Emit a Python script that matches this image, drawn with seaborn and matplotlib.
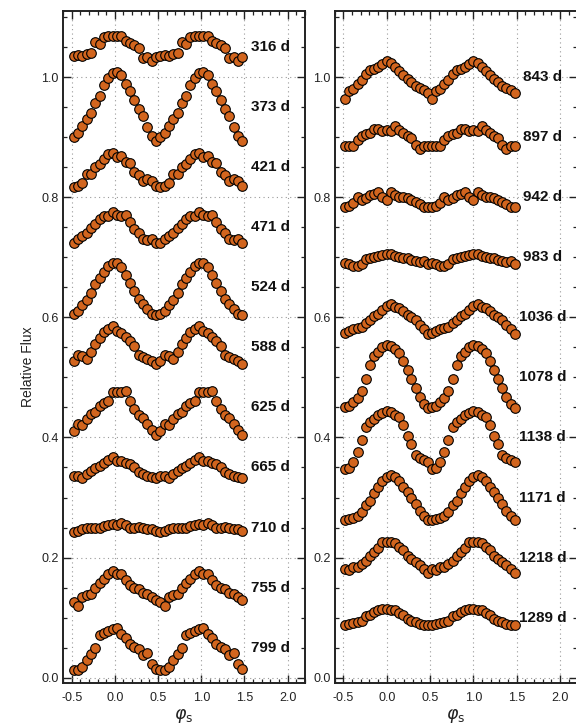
import numpy as np
import pandas as pd
import matplotlib
matplotlib.use("Agg")
import matplotlib.pyplot as plt
from matplotlib.ticker import MultipleLocator, FormatStrFormatter
import seaborn as sns

# Phase grid of one folded cycle (left and right columns)
PHASE_L = [-0.475, -0.425, -0.375, -0.325, -0.275, -0.225, -0.175, -0.125, -0.075, -0.025,
           0.025, 0.075, 0.125, 0.175, 0.225, 0.275, 0.325, 0.375, 0.425, 0.475]
PHASE_R = [-0.48, -0.43, -0.385, -0.335, -0.29, -0.24, -0.19, -0.145, -0.095, -0.05, 0.0,
           0.05, 0.095, 0.145, 0.19, 0.24, 0.285, 0.335, 0.38, 0.43, 0.475]

# Left column light curves (offset relative flux)
F_316 = [1.035, 1.036, 1.035, 1.038, 1.040, 1.058, 1.055, 1.066, 1.069, 1.069,
         1.068, 1.068, 1.060, 1.056, 1.053, 1.049, 1.031, 1.034, 1.026, 1.033]
F_373 = [0.900, 0.907, 0.918, 0.930, 0.940, 0.957, 0.969, 0.986, 0.998, 1.006,
         1.009, 1.003, 0.988, 0.977, 0.961, 0.947, 0.935, 0.917, 0.902, 0.894]
F_421 = [0.817, 0.819, 0.824, 0.839, 0.839, 0.851, 0.855, 0.863, 0.872, 0.874,
         0.867, 0.868, 0.859, 0.857, 0.842, 0.837, 0.827, 0.830, 0.827, 0.818]
F_471 = [0.724, 0.730, 0.735, 0.740, 0.748, 0.756, 0.764, 0.768, 0.769, 0.775,
         0.770, 0.769, 0.771, 0.758, 0.747, 0.740, 0.731, 0.728, 0.731, 0.724]
F_524 = [0.605, 0.610, 0.620, 0.629, 0.640, 0.655, 0.666, 0.676, 0.686, 0.691,
         0.690, 0.684, 0.670, 0.657, 0.644, 0.630, 0.622, 0.614, 0.606, 0.604]
F_588 = [0.527, 0.537, 0.536, 0.531, 0.542, 0.556, 0.565, 0.575, 0.580, 0.586,
         0.578, 0.574, 0.567, 0.560, 0.553, 0.537, 0.534, 0.530, 0.528, 0.523]
F_625 = [0.410, 0.423, 0.421, 0.430, 0.439, 0.443, 0.452, 0.457, 0.461, 0.475,
         0.476, 0.476, 0.477, 0.460, 0.448, 0.438, 0.432, 0.422, 0.412, 0.404]
F_665 = [0.336, 0.335, 0.332, 0.339, 0.344, 0.349, 0.353, 0.357, 0.362, 0.367,
         0.360, 0.361, 0.358, 0.356, 0.350, 0.343, 0.339, 0.336, 0.334, 0.333]
F_710 = [0.243, 0.245, 0.248, 0.250, 0.249, 0.250, 0.249, 0.252, 0.255, 0.256,
         0.254, 0.258, 0.254, 0.250, 0.249, 0.251, 0.250, 0.247, 0.247, 0.245]
F_755 = [0.126, 0.120, 0.135, 0.137, 0.140, 0.149, 0.157, 0.165, 0.172, 0.177,
         0.173, 0.172, 0.163, 0.155, 0.150, 0.147, 0.141, 0.139, 0.135, 0.130]
F_799 = [0.013, 0.012, 0.018, 0.030, 0.040, 0.050, 0.071, 0.074, 0.078, 0.081,
         0.082, 0.072, 0.066, 0.056, 0.051, 0.048, 0.037, 0.041, 0.022, 0.015]

# Right column light curves
F_843 = [0.964, 0.976, 0.980, 0.989, 0.995, 1.005, 1.012, 1.013, 1.017, 1.022, 1.026,
         1.023, 1.016, 1.010, 1.003, 0.997, 0.991, 0.985, 0.982, 0.978, 0.973]
F_897 = [0.885, 0.885, 0.886, 0.896, 0.902, 0.905, 0.907, 0.914, 0.913, 0.911, 0.912,
         0.911, 0.918, 0.912, 0.907, 0.902, 0.898, 0.887, 0.881, 0.886, 0.885]
F_942 = [0.783, 0.785, 0.791, 0.801, 0.795, 0.799, 0.803, 0.805, 0.809, 0.801, 0.795,
         0.809, 0.803, 0.801, 0.801, 0.798, 0.795, 0.792, 0.788, 0.784, 0.783]
F_983 = [0.691, 0.689, 0.686, 0.686, 0.689, 0.697, 0.699, 0.701, 0.702, 0.703, 0.706,
         0.706, 0.702, 0.701, 0.699, 0.698, 0.695, 0.693, 0.692, 0.693, 0.688]
F_1036 = [0.574, 0.578, 0.580, 0.583, 0.584, 0.591, 0.595, 0.602, 0.606, 0.613, 0.619,
          0.622, 0.617, 0.616, 0.610, 0.604, 0.600, 0.595, 0.588, 0.581, 0.573]
F_1078 = [0.451, 0.453, 0.459, 0.466, 0.478, 0.498, 0.520, 0.536, 0.543, 0.551, 0.554,
          0.553, 0.548, 0.541, 0.528, 0.512, 0.498, 0.482, 0.467, 0.456, 0.449]
F_1138 = [0.348, 0.349, 0.359, 0.376, 0.395, 0.417, 0.426, 0.431, 0.437, 0.441, 0.444,
          0.442, 0.438, 0.434, 0.420, 0.403, 0.389, 0.370, 0.366, 0.363, 0.359]
F_1171 = [0.262, 0.264, 0.266, 0.270, 0.276, 0.287, 0.295, 0.307, 0.318, 0.328, 0.334,
          0.337, 0.334, 0.327, 0.318, 0.309, 0.299, 0.289, 0.278, 0.270, 0.263]
F_1218 = [0.181, 0.179, 0.184, 0.185, 0.189, 0.195, 0.203, 0.209, 0.216, 0.226, 0.226,
          0.226, 0.224, 0.218, 0.212, 0.203, 0.198, 0.192, 0.187, 0.181, 0.175]
F_1289 = [0.087, 0.089, 0.091, 0.092, 0.095, 0.102, 0.105, 0.109, 0.112, 0.114, 0.114,
          0.112, 0.112, 0.108, 0.105, 0.098, 0.095, 0.092, 0.089, 0.087, 0.088]

LABELS_L = ["316 d", "373 d", "421 d", "471 d", "524 d", "588 d",
            "625 d", "665 d", "710 d", "755 d", "799 d"]
LABEL_Y_L = [1.05, 0.95, 0.85, 0.75, 0.65, 0.55, 0.45, 0.35, 0.25, 0.15, 0.05]
LABELS_R = ["843 d", "897 d", "942 d", "983 d", "1036 d",
            "1078 d", "1138 d", "1171 d", "1218 d", "1289 d"]
LABEL_Y_R = [1.00, 0.90, 0.80, 0.70, 0.60, 0.50, 0.40, 0.30, 0.20, 0.10]

FLUX_L = [F_316, F_373, F_421, F_471, F_524, F_588, F_625, F_665, F_710, F_755, F_799]
FLUX_R = [F_843, F_897, F_942, F_983, F_1036, F_1078, F_1138, F_1171, F_1218, F_1289]

X_TICKS = [-0.5, 0.0, 0.5, 1.0, 1.5, 2.0]
Y_TICKS = [0.0, 0.2, 0.4, 0.6, 0.8, 1.0]

ORANGE = "#d2651e"


def folded_frame(phase, fluxes, labels):
    """Two folded cycles per curve: phase and phase + 1."""
    rows = []
    for lab, flux in zip(labels, fluxes):
        ph = np.asarray(phase)
        fl = np.asarray(flux)
        rows.append(pd.DataFrame({"phase": np.concatenate([ph, ph + 1.0]),
                                  "flux": np.concatenate([fl, fl]),
                                  "curve": lab}))
    return pd.concat(rows, ignore_index=True)


sns.set_theme(style="ticks")
plt.rcParams["font.family"] = ["Liberation Sans", "DejaVu Sans"]
plt.rcParams["axes.unicode_minus"] = False
plt.rcParams["mathtext.fontset"] = "dejavusans"

fig = plt.figure(figsize=(5.76, 7.24), dpi=100)
W, H = 576.0, 724.0
bottom = 1 - 682.5 / H
height = 671.5 / H
ax_l = fig.add_axes([63 / W, bottom, 242 / W, height])
ax_r = fig.add_axes([334.7 / W, bottom, 242.7 / W, height])

panels = [
    (ax_l, folded_frame(PHASE_L, FLUX_L, LABELS_L), LABELS_L, LABEL_Y_L),
    (ax_r, folded_frame(PHASE_R, FLUX_R, LABELS_R), LABELS_R, LABEL_Y_R),
]

for ax, df, labels, label_y in panels:
    for lab in labels:
        sub = df[df["curve"] == lab]
        sns.scatterplot(data=sub, x="phase", y="flux", ax=ax, color=ORANGE,
                        edgecolor="black", linewidth=0.8, s=48, legend=False,
                        zorder=3)
    for lab, y in zip(labels, label_y):
        ax.text(1.8, y, lab, ha="center", va="center", fontsize=11,
                fontweight="bold", color="#111111", zorder=4)

    ax.set_xlim(-0.6, 2.2)
    ax.set_ylim(-0.008, 1.11)
    ax.set_xticks(X_TICKS)
    ax.set_yticks(Y_TICKS)
    ax.xaxis.set_major_formatter(FormatStrFormatter("%.1f"))
    ax.yaxis.set_major_formatter(FormatStrFormatter("%.1f"))
    ax.xaxis.set_minor_locator(MultipleLocator(0.1))
    ax.yaxis.set_minor_locator(MultipleLocator(0.05))
    ax.tick_params(which="both", direction="in", top=True, right=True,
                   color="#222222")
    ax.tick_params(which="major", length=6, width=1.0, labelsize=9,
                   labelcolor="#222222")
    ax.tick_params(axis="x", which="major", pad=6.5)
    ax.tick_params(axis="y", which="major", pad=3)
    ax.tick_params(which="minor", length=3, width=0.9)
    ax.grid(True, which="major", linestyle=(0, (1, 3)), color="#9a9a9a",
            linewidth=0.8, zorder=0)
    for sp in ax.spines.values():
        sp.set_linewidth(1.4)
        sp.set_color("#222222")
    ax.set_xlabel(r"$\varphi_{\mathrm{s}}$", fontsize=12.5, labelpad=2.5,
                  color="#222222")
    ax.set_ylabel("")

fig.text(28 / W, 1 - 367 / H, "Relative Flux", rotation=90, ha="center",
         va="center", fontsize=10, color="#222222")

fig.savefig("out.png", dpi=100)
